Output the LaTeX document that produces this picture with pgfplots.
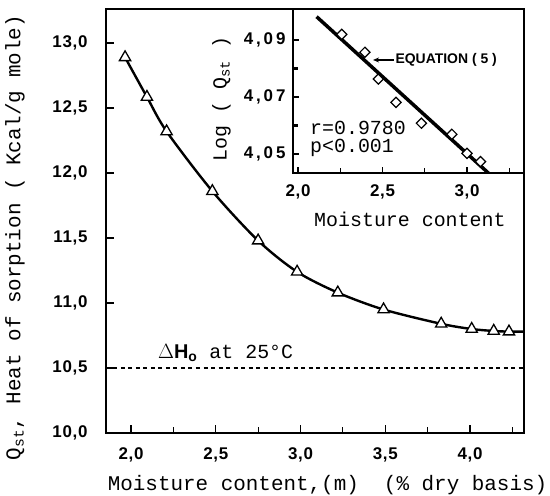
\documentclass[border=0pt]{standalone}
\usepackage{fontspec}
\setmainfont{Liberation Mono}
\setsansfont{Liberation Sans}
\usepackage{pgfplots}
\pgfplotsset{compat=1.18}
\usetikzlibrary{arrows.meta}

\newcommand\labfont{\fontsize{20}{22}\selectfont}
\newcommand\mainlab{\fontsize{21}{23}\selectfont}
\newcommand\tickf{\fontsize{17}{18}\selectfont\sffamily\bfseries\addfontfeature{LetterSpace=4}}
\newcommand\itickf{\fontsize{17}{18}\selectfont\sffamily\bfseries\addfontfeature{LetterSpace=17}}

\begin{document}
\begin{tikzpicture}
\begin{axis}[
  name=main,
  at={(0,0)}, anchor=south west,
  scale only axis, width=418bp, height=424bp,
  xmin=1.8525, xmax=4.3186, ymin=10, ymax=13.262,
  axis line style={line width=2.8bp},
  xtick={2,2.5,3,3.5,4}, minor xtick={2.25,2.75,3.25,3.75,4.25},
  ytick={10,10.5,11,11.5,12,12.5,13},
  xtick pos=bottom, ytick pos=left,
  tick align=inside,
  major tick length=8bp, minor tick length=6bp,
  tick style={line width=1.2bp, black},
  /pgf/number format/.cd, fixed, fixed zerofill, precision=1, use comma, assume math mode=true,
  /pgfplots/.cd,
  xticklabel style={font=\tickf, yshift=-11bp},
  yticklabel style={font=\tickf, xshift=-15bp},
  xlabel={Moisture content,(m)~~(\% dry basis)},
  ylabel={Q\textsubscript{st}, Heat of sorption ( Kcal/g mole)},
  label style={font=\mainlab},
  xlabel style={at={(axis description cs:0.53,-0.1226)}, anchor=center},
  ylabel style={at={(axis description cs:-0.2177,0.461)}, anchor=center},
]
\addplot[line width=1.2bp, dash pattern=on 4bp off 3.5bp] coordinates {(1.8525,10.5) (4.3186,10.5)};
\addplot[smooth, line width=2.4bp] coordinates {
 (1.965,12.89) (2.094,12.585) (2.21,12.32) (2.48,11.86) (2.75,11.48) (2.98,11.24)
 (3.22,11.08) (3.49,10.95) (3.83,10.84) (4.01,10.80) (4.14,10.785) (4.23,10.78) (4.3186,10.78)};
\addplot[only marks, mark=triangle*, mark size=6.5bp, mark options={fill=white, draw=black, line width=1.3bp}] coordinates {
 (1.965,12.89) (2.094,12.585) (2.21,12.32) (2.48,11.86) (2.75,11.48) (2.98,11.24)
 (3.22,11.08) (3.49,10.95) (3.83,10.84) (4.01,10.80) (4.14,10.785) (4.23,10.78)};
\node[anchor=west, font=\labfont, inner sep=0pt] at (axis cs:2.159,10.615) {{\sffamily\bfseries$\Delta$H\textsubscript{o}} at 25°C};
\end{axis}

\begin{axis}[
  at={(187bp,260bp)}, anchor=south west,
  scale only axis, width=231bp, height=164bp,
  xmin=1.9704, xmax=3.337, ymin=4.0433, ymax=4.1009,
  axis background/.style={fill=white},
  axis line style={line width=2.8bp},
  xtick={2,2.5,3}, minor xtick={2.25,2.75,3.25},
  ytick={4.05,4.07,4.09}, minor ytick={4.06,4.08},
  xtick pos=bottom, ytick pos=left,
  tick align=inside,
  major tick length=6bp, minor tick length=5bp,
  tick style={line width=1.2bp, black},
  ytick style={line width=2.5bp},
  minor tick style={line width=1.2bp},
  xticklabel style={font=\tickf, yshift=-8bp, /pgf/number format/.cd, fixed, fixed zerofill, precision=1, use comma, assume math mode=true},
  yticklabel style={font=\itickf, xshift=-4bp, /pgf/number format/.cd, fixed, fixed zerofill, precision=2, use comma, assume math mode=true},
  xlabel={Moisture content},
  ylabel={Log ( Q\textsubscript{st} )},
  label style={font=\labfont},
  xlabel style={at={(axis description cs:0.506,-0.28)}, anchor=center},
  ylabel style={at={(axis description cs:-0.31,0.45)}, anchor=center},
]
\addplot[line width=3.5bp] coordinates {(2.11,4.0982) (3.126,4.0433)};
\addplot[only marks, mark=square*, mark size=3.6bp, mark options={rotate=45, fill=white, draw=black, line width=1.2bp}] coordinates {
 (2.259,4.092) (2.396,4.0857) (2.475,4.0763) (2.58,4.0681) (2.73,4.0608) (2.91,4.0569) (3.0,4.0502) (3.08,4.0473)};
\draw[-{Stealth[length=6bp,width=5bp]}, line width=1.2bp] (axis cs:2.565,4.083) -- (axis cs:2.444,4.083);
\node[anchor=west, font=\fontsize{14}{14}\selectfont\sffamily\bfseries, inner sep=1bp] at (axis cs:2.57,4.083) {EQUATION (\;5\;)};
\node[anchor=west, font=\labfont, inner sep=0pt] at (axis cs:2.071,4.0591) {r=0.9780};
\node[anchor=west, font=\labfont, inner sep=0pt] at (axis cs:2.071,4.0521) {p<0.001};
\end{axis}
\pgfresetboundingbox
\useasboundingbox (-106bp,-63bp) rectangle (444bp,433bp);
\end{tikzpicture}
\end{document}
